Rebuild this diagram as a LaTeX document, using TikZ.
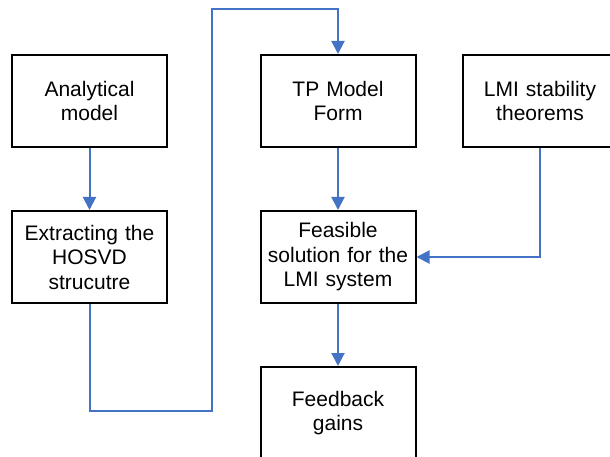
\documentclass[tikz,border=0pt]{standalone}
\usepackage{fontspec}
\setmainfont{Liberation Sans}
\usetikzlibrary{arrows.meta}
\definecolor{linkblue}{HTML}{4472C4}
\begin{document}
\begin{tikzpicture}[x=1pt,y=-1pt,
                    block/.style={draw=black, line width=2pt, minimum width=155pt, minimum height=92pt,
                                  text width=150pt, inner sep=0pt, align=center,
                                  font=\fontsize{21}{24.5}\selectfont},
                    link/.style={draw=linkblue, line width=2pt, -{Triangle[length=13pt,width=13pt]}}]
                    \path[use as bounding box, clip] (0,0) rectangle (610,457);

                    \node[block] (analytic) at (89.5,101) {Analytical\\model};
                    \node[block] (hosvd) at (89.5,257) {Extracting the\\HOSVD\\strucutre};
                    \node[block] (tpform) at (338,101) {TP Model\\Form};
                    \node[block] (feasible) at (338,257) {Feasible\\solution for the\\LMI system};
                    \node[block] (lmi) at (540,101) {LMI stability\\theorems};
                    \node[block] (gains) at (338,413) {Feedback\\gains};

                    \coordinate (low) at (212,411);
                    \coordinate (high) at (212,9);

                    \draw[link] (analytic) -- (hosvd);
                    \draw[link] (hosvd.south) |- (low) -- (high) -| (tpform.north);
                    \draw[link] (tpform) -- (feasible);
                    \draw[link] (lmi.south) |- (feasible.east);
                    \draw[link] (feasible) -- (gains);
                \end{tikzpicture}
\end{document}
